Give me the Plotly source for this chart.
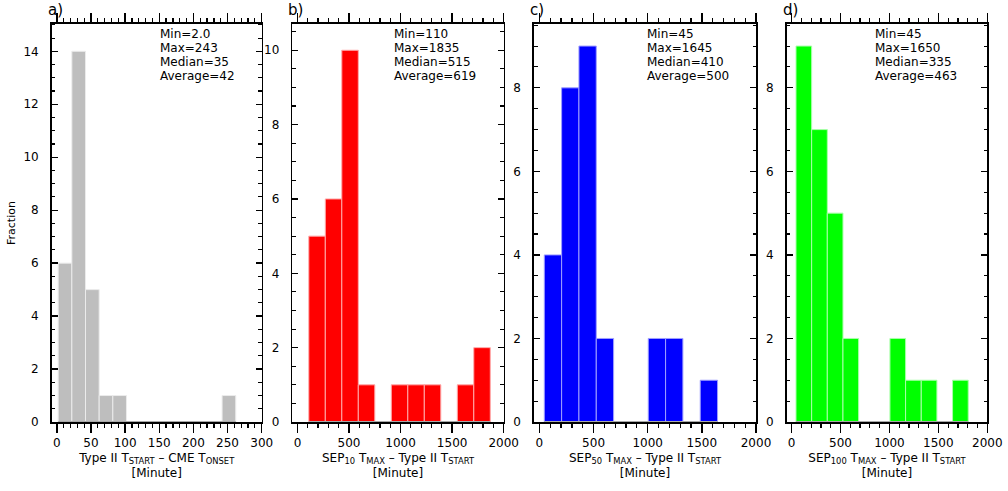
import plotly.graph_objects as go

# ---------------- data ----------------
panel_labels = ["a)", "b)", "c)", "d)"]
bin_start = [2.0, 110.0, 45.0, 45.0]
bin_width = [20.0, 160.0, 160.0, 160.0]
counts_a = [6, 14, 5, 1, 1, 0, 0, 0, 0, 0, 0, 0, 1]
counts_b = [5, 6, 10, 1, 0, 1, 1, 1, 0, 1, 2]
counts_c = [4, 8, 9, 2, 0, 0, 2, 2, 0, 1]
counts_d = [9, 7, 5, 2, 0, 0, 2, 1, 1, 0, 1]
stats_a = ["Min=2.0", "Max=243", "Median=35", "Average=42"]
stats_b = ["Min=110", "Max=1835", "Median=515", "Average=619"]
stats_c = ["Min=45", "Max=1645", "Median=410", "Average=500"]
stats_d = ["Min=45", "Max=1650", "Median=335", "Average=463"]
x_titles = [
    "Type II T<sub>START</sub> \u2013 CME T<sub>ONSET</sub><br>[Minute]",
    "SEP<sub>10</sub> T<sub>MAX</sub> \u2013 Type II T<sub>START</sub><br>[Minute]",
    "SEP<sub>50</sub> T<sub>MAX</sub> \u2013 Type II T<sub>START</sub><br>[Minute]",
    "SEP<sub>100</sub> T<sub>MAX</sub> \u2013 Type II T<sub>START</sub><br>[Minute]",
]
x_ticks_a = [0, 50, 100, 150, 200, 250, 300]
x_ticks_sep = [0, 500, 1000, 1500, 2000]
y_title = "Fraction"

counts = [counts_a, counts_b, counts_c, counts_d]
stats = [stats_a, stats_b, stats_c, stats_d]

# ---------------- style / layout ----------------
W, H = 1008, 491
colors = ["#BEBEBE", "#FF0000", "#0000FF", "#00FF00"]
edge_colors = ["rgb(235,235,235)", "rgb(255,170,170)", "rgb(160,160,255)", "rgb(170,255,170)"]
left_px = [51.7, 292.3, 534.0, 786.7]
right_px = [261.7, 503.7, 756.0, 987.3]
top_px, bottom_px = 23.5, 422.0
x_ranges = [[-7.5, 300], [-50, 2000], [-50, 2000], [-50, 2000]]
y_tops = [15.05, 10.72, 9.54, 9.54]
x_minor = [10, 100, 100, 100]
stat_x_frac = [0.505, 0.470, 0.50, 0.429]
stat_y_px = [34.5, 48.3, 62.1, 75.9]
FONT = "DejaVu Sans"


def px_x(p):
    return p / W


def px_y(p):
    return 1 - p / H


fig = go.Figure()
layout = dict(
    width=W, height=H, autosize=False,
    margin=dict(l=0, r=0, t=0, b=0),
    paper_bgcolor="white", plot_bgcolor="white",
    showlegend=False, bargap=0,
    font=dict(family=FONT, color="black", size=12),
)
annotations = []

ydom = [px_y(bottom_px), px_y(top_px)]
for i in range(4):
    xs = "" if i == 0 else str(i + 1)
    xa = "x" + xs
    ya = "y" + xs
    c = counts[i]
    centers = [bin_start[i] + bin_width[i] * (k + 0.5) for k in range(len(c))]
    fig.add_trace(go.Bar(
        x=centers, y=c, width=[bin_width[i]] * len(c),
        marker=dict(color=colors[i], line=dict(color=edge_colors[i], width=1)),
        xaxis=xa, yaxis=ya, hoverinfo="skip",
    ))
    # histogram baseline (drawn over the axis between the first and last bin edge)
    fig.add_trace(go.Scatter(
        x=[bin_start[i], bin_start[i] + bin_width[i] * len(c)], y=[0, 0],
        mode="lines", line=dict(color="#A8A8A8", width=2),
        xaxis=xa, yaxis=ya, hoverinfo="skip", cliponaxis=False,
    ))
    dom = [px_x(left_px[i]), px_x(right_px[i])]
    tickvals = x_ticks_a if i == 0 else x_ticks_sep
    common_x = dict(domain=dom, range=x_ranges[i], anchor=ya, showgrid=False,
                    zeroline=False, tickvals=tickvals, tickcolor="black",
                    tickwidth=1.5, mirror="ticks")
    layout["xaxis" + xs] = dict(
        **common_x, showline=True, linecolor="black", linewidth=1.6,
        ticks="outside", ticklen=9,
        minor=dict(ticks="outside", ticklen=4, dtick=x_minor[i], tick0=0,
                   tickcolor="black", tickwidth=1.2, showgrid=False),
        showticklabels=True, tickfont=dict(family=FONT, size=12),
        ticklabelstandoff=0,
        title=dict(text=x_titles[i], font=dict(family=FONT, size=12), standoff=4),
        automargin=False,
    )
    layout["xaxis" + str(i + 5)] = dict(
        **common_x, overlaying=xa, showline=False,
        ticks="inside", ticklen=8,
        minor=dict(ticks="inside", ticklen=3, dtick=x_minor[i], tick0=0,
                   tickcolor="black", tickwidth=1.2, showgrid=False),
        showticklabels=False,
    )
    layout["yaxis" + xs] = dict(
        domain=ydom, range=[0, y_tops[i]], anchor=xa, showgrid=False, zeroline=False,
        showline=True, linecolor="black", linewidth=1.6, mirror="ticks",
        ticks="inside", ticklen=6, tickwidth=1.3, tickcolor="black", dtick=2, tick0=0,
        minor=dict(ticks="inside", ticklen=3.5, dtick=0.5, tick0=0,
                   tickcolor="black", tickwidth=1.1, showgrid=False),
        tickfont=dict(family=FONT, size=12), ticklabelstandoff=9,
        automargin=False,
    )
    # panel label
    annotations.append(dict(
        text=panel_labels[i], xref="paper", yref="paper",
        x=px_x(left_px[i] - 6), y=px_y(10), xanchor="left", yanchor="middle",
        showarrow=False, font=dict(family=FONT, size=15),
    ))
    # statistics lines
    for j, s in enumerate(stats[i]):
        annotations.append(dict(
            text=s, xref=xa + " domain", yref="paper",
            x=stat_x_frac[i], y=px_y(stat_y_px[j]),
            xanchor="left", yanchor="middle", showarrow=False,
            font=dict(family=FONT, size=12),
        ))

annotations.append(dict(
    text=y_title, xref="paper", yref="paper", x=px_x(11), y=px_y(223),
    xanchor="center", yanchor="middle", textangle=-90, showarrow=False,
    font=dict(family=FONT, size=11),
))
layout["annotations"] = annotations
fig.update_layout(**layout)
fig.write_html(
    "out.html",
    config={"displayModeBar": False, "staticPlot": True},
    post_script="document.body.style.margin='0';document.body.style.overflow='hidden';",
)
